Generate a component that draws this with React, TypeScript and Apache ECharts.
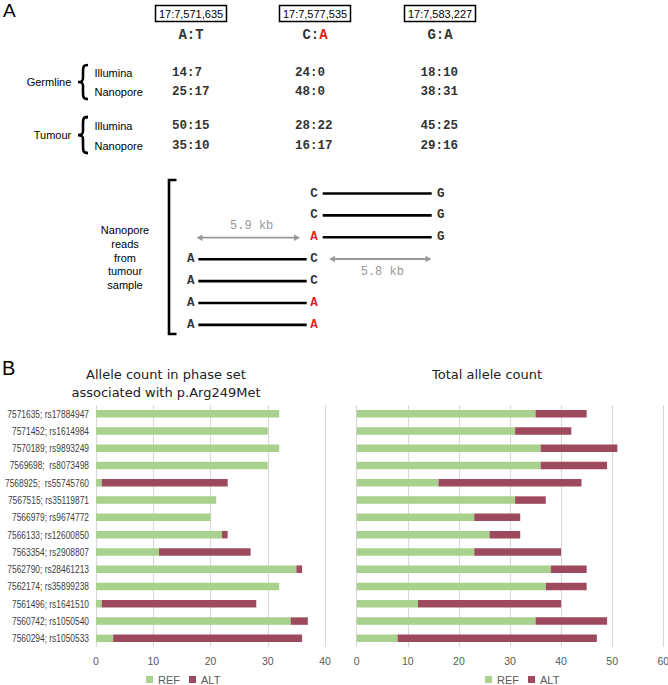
import React, { useEffect, useRef } from "react";
import * as echarts from "echarts";

// ---------- Panel B data ----------
const categories = [
  "7571635; rs17884947",
  "7571452; rs1614984",
  "7570189; rs9893249",
  "7569698;  rs8073498",
  "7568925;  rs55745760",
  "7567515; rs35119871",
  "7566979; rs9674772",
  "7566133; rs12600850",
  "7563354; rs2908807",
  "7562790; rs28461213",
  "7562174; rs35899238",
  "7561496; rs1641510",
  "7560742; rs1050540",
  "7560294; rs1050533",
];
const phaseRef = [32, 30, 32, 30, 1, 21, 20, 22, 11, 35, 32, 1, 34, 3];
const phaseAlt = [0, 0, 0, 0, 22, 0, 0, 1, 16, 1, 0, 27, 3, 33];
const totalRef = [35, 31, 36, 36, 16, 31, 23, 26, 23, 38, 37, 12, 35, 8];
const totalAlt = [10, 11, 15, 13, 28, 6, 9, 6, 17, 7, 8, 28, 14, 39];
const seriesNames = ["REF", "ALT"];

// ---------- Panel A data ----------
const positions = ["17:7,571,635", "17:7,577,535", "17:7,583,227"];
const alleles = [["A", "T"], ["C", "A"], ["G", "A"]];
const germlineIllumina = ["14:7", "24:0", "18:10"];
const germlineNanopore = ["25:17", "48:0", "38:31"];
const tumourIllumina = ["50:15", "28:22", "45:25"];
const tumourNanopore = ["35:10", "16:17", "29:16"];
// reads: [left allele, middle allele, right allele] ("" = not covered)
const reads = [
  ["", "C", "G"],
  ["", "C", "G"],
  ["", "A", "G"],
  ["A", "C", ""],
  ["A", "C", ""],
  ["A", "A", ""],
  ["A", "A", ""],
];
const distances = ["5.9 kb", "5.8 kb"];

const GREEN = "#a9d18e";
const MAROON = "#9e4a5e";
const RED = "#e0201b";
const SANS = "Liberation Sans, Arial, sans-serif";
const MONO = "Liberation Mono, Courier New, monospace";

const BRACE_D =
  "M10,0 C5,0 5,2 5,7 L5,13 C5,16 4,17 0,17 C4,17 5,18 5,21 L5,27 C5,32 5,34 10,34";

function buildGraphic() {
  const g: any[] = [];
  g.push({ type: "text", x: 3, y: 1, style: { text: "A", font: `19px ${SANS}`, fill: "#000" } });
  g.push({ type: "text", x: 2, y: 358, style: { text: "B", font: `20px ${SANS}`, fill: "#000" } });

  const colX = [191, 315, 440];
  positions.forEach((p, i) => {
    g.push({
      type: "rect",
      shape: { x: colX[i] - 35.5, y: 5.5, width: 71, height: 16 },
      style: { fill: "#fff", stroke: "#000", lineWidth: 1.5 },
    });
    g.push({
      type: "text",
      x: colX[i],
      y: 14,
      style: { text: p, font: `11px ${SANS}`, fill: "#000", align: "center", verticalAlign: "middle" },
    });
  });
  alleles.forEach((a, i) => {
    const redAlt = i === 1;
    g.push({
      type: "text",
      x: colX[i],
      y: 34.5,
      style: {
        text: `{n|${a[0]}:}{${redAlt ? "r" : "n"}|${a[1]}}`,
        align: "center",
        verticalAlign: "middle",
        rich: {
          n: { font: `bold 14px ${MONO}`, fill: "#333" },
          r: { font: `bold 14px ${MONO}`, fill: RED },
        },
      },
    });
  });

  const rowY = [72.7, 92.3, 126, 145.7];
  const groupLabels = [
    { t: "Germline", x: 49, y: 82, by: 65, h: 34 },
    { t: "Tumour", x: 52.5, y: 135, by: 117, h: 36 },
  ];
  groupLabels.forEach((gl) => {
    g.push({
      type: "text",
      x: gl.x,
      y: gl.y,
      style: { text: gl.t, font: `11px ${SANS}`, fill: "#000", align: "center", verticalAlign: "middle" },
    });
    g.push({
      type: "brace",
      x: 78,
      y: gl.by,
      scaleY: gl.h / 34,
      style: { stroke: "#000", fill: null, lineWidth: 2.6 },
    });
  });
  const techs = ["Illumina", "Nanopore", "Illumina", "Nanopore"];
  techs.forEach((t, i) => {
    g.push({
      type: "text",
      x: 94.5,
      y: rowY[i],
      style: { text: t, font: `11px ${SANS}`, fill: "#000", verticalAlign: "middle" },
    });
  });
  const numStartX = [172, 295, 420.5];
  [germlineIllumina, germlineNanopore, tumourIllumina, tumourNanopore].forEach((row, ri) => {
    row.forEach((v, ci) => {
      g.push({
        type: "text",
        x: numStartX[ci],
        y: rowY[ri],
        style: { text: v, font: `bold 12.5px ${MONO}`, fill: "#333", verticalAlign: "middle" },
      });
    });
  });

  g.push({
    type: "polyline",
    shape: { points: [[176.5, 180], [169, 180], [169, 334], [176.5, 334]] },
    style: { stroke: "#000", lineWidth: 2.6, fill: null },
  });
  ["Nanopore", "reads", "from", "tumour", "sample"].forEach((t, i) => {
    g.push({
      type: "text",
      x: 125,
      y: 230 + i * 13.8,
      style: { text: t, font: `11px ${SANS}`, fill: "#000", align: "center", verticalAlign: "middle" },
    });
  });

  const letterX = [190.7, 314, 440.7];
  reads.forEach((r, i) => {
    const y = 193.5 + i * 21.9;
    r.forEach((l, j) => {
      if (!l) return;
      const red = j === 1 && l === "A";
      g.push({
        type: "text",
        x: letterX[j],
        y,
        style: {
          text: l,
          font: `bold 12.5px ${MONO}`,
          fill: red ? RED : "#333",
          align: "center",
          verticalAlign: "middle",
        },
      });
    });
    const hasLeft = r[0] !== "";
    const x1 = hasLeft ? 198.3 : 322.7;
    const x2 = hasLeft ? 306.7 : 431.7;
    g.push({
      type: "line",
      shape: { x1, y1: y, x2, y2: y },
      style: { stroke: "#000", lineWidth: 2.6 },
    });
  });

  const arrows = [
    { x1: 196.5, x2: 300, y: 237.7, lx: 251.7, ly: 225.5 },
    { x1: 329, x2: 431.5, y: 259, lx: 382.3, ly: 272 },
  ];
  arrows.forEach((a, i) => {
    g.push({
      type: "line",
      shape: { x1: a.x1 + 4, y1: a.y, x2: a.x2 - 4, y2: a.y },
      style: { stroke: "#999", lineWidth: 1.8 },
    });
    g.push({
      type: "polygon",
      shape: { points: [[a.x1, a.y], [a.x1 + 6, a.y - 3.2], [a.x1 + 6, a.y + 3.2]] },
      style: { fill: "#999" },
    });
    g.push({
      type: "polygon",
      shape: { points: [[a.x2, a.y], [a.x2 - 6, a.y - 3.2], [a.x2 - 6, a.y + 3.2]] },
      style: { fill: "#999" },
    });
    g.push({
      type: "text",
      x: a.lx,
      y: a.ly,
      style: { text: distances[i], font: `12px ${MONO}`, fill: "#999", align: "center", verticalAlign: "middle" },
    });
  });

  const titleFont = `13px DejaVu Sans, sans-serif`;
  g.push({
    type: "text",
    x: 166,
    y: 374.5,
    style: { text: "Allele count in phase set", font: titleFont, fill: "#222", align: "center", verticalAlign: "middle" },
  });
  g.push({
    type: "text",
    x: 166,
    y: 392.5,
    style: { text: "associated with p.Arg249Met", font: titleFont, fill: "#222", align: "center", verticalAlign: "middle" },
  });
  g.push({
    type: "text",
    x: 487,
    y: 374.5,
    style: { text: "Total allele count", font: titleFont, fill: "#222", align: "center", verticalAlign: "middle" },
  });
  return g;
}

let braceRegistered = false;

export default function App() {
  const ref = useRef<HTMLDivElement>(null);
  useEffect(() => {
    if (!braceRegistered) {
      echarts.graphic.registerShape("brace", echarts.graphic.extendPath(BRACE_D, {}) as any);
      braceRegistered = true;
    }
    const chart = echarts.init(ref.current!, null, { renderer: "svg" });
    const xAxisCommon = {
      type: "value" as const,
      interval: 10,
      axisLine: { show: false },
      axisTick: { show: false },
      splitLine: { show: true, lineStyle: { color: "#d9d9d9", width: 1.2 } },
      axisLabel: { color: "#595959", fontSize: 10.5, fontFamily: SANS, margin: 8 },
    };
    const yAxisCommon = {
      type: "category" as const,
      data: categories,
      inverse: true,
      axisLine: { show: false },
      axisTick: { show: false },
      splitLine: { show: false },
      axisLabel: { show: false },
    };
    const barCommon = { type: "bar" as const, barWidth: 7.5 };
    const legendCommon = {
      data: seriesNames,
      top: 674,
      icon: "rect",
      itemWidth: 7,
      itemHeight: 7,
      itemGap: 9,
      textStyle: { color: "#595959", fontSize: 11, fontFamily: SANS },
      padding: 0,
    };
    chart.setOption({
      animation: false,
      grid: [
        { left: 96, top: 405, width: 229, height: 242, containLabel: false, outerBoundsMode: "none" },
        { left: 356.7, top: 405, width: 306.6, height: 242, containLabel: false, outerBoundsMode: "none" },
      ],
      xAxis: [
        { ...xAxisCommon, gridIndex: 0, min: 0, max: 40 },
        { ...xAxisCommon, gridIndex: 1, min: 0, max: 60 },
      ],
      yAxis: [
        { ...yAxisCommon, gridIndex: 0 },
        { ...yAxisCommon, gridIndex: 1 },
      ],
      legend: [
        { ...legendCommon, left: 146 },
        { ...legendCommon, left: 485 },
      ],
      series: [
        { ...barCommon, name: "REF", stack: "p", xAxisIndex: 0, yAxisIndex: 0, data: phaseRef, itemStyle: { color: GREEN } },
        { ...barCommon, name: "ALT", stack: "p", xAxisIndex: 0, yAxisIndex: 0, data: phaseAlt, itemStyle: { color: MAROON } },
        { ...barCommon, name: "REF", stack: "t", xAxisIndex: 1, yAxisIndex: 1, data: totalRef, itemStyle: { color: GREEN } },
        { ...barCommon, name: "ALT", stack: "t", xAxisIndex: 1, yAxisIndex: 1, data: totalAlt, itemStyle: { color: MAROON } },
      ],
    });
    // condensed category labels, positioned through the y axis scale
    const labelGraphics = categories.map((c) => {
      const y = chart.convertToPixel({ yAxisIndex: 0 } as any, c) as unknown as number;
      return {
        type: "text",
        x: 89,
        y,
        scaleX: 0.8,
        style: {
          text: c,
          font: `10.5px ${SANS}`,
          fill: "#404040",
          align: "right",
          verticalAlign: "middle",
        },
      };
    });
    chart.setOption({ graphic: [...buildGraphic(), ...labelGraphics] });
    return () => chart.dispose();
  }, []);
  return (
    <div
      ref={ref}
      style={{ position: "fixed", left: 0, top: 0, width: 668, height: 685, background: "#fff" }}
    />
  );
}
